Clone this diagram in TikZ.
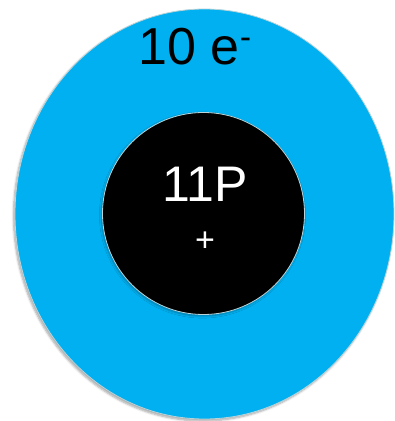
\documentclass[tikz,border=0pt]{standalone}
\usepackage{fontspec}
\setmainfont{Liberation Sans}
\usetikzlibrary{shapes.geometric,shadows.blur}
\definecolor{shellblue}{HTML}{00B0F0}
\definecolor{rimgray}{HTML}{B8D4DA}
\begin{document}
\begin{tikzpicture}[x=1pt,y=1pt,
  shellstyle/.style={ellipse, inner sep=0pt, fill=shellblue, draw=rimgray, line width=0.8pt,
    blur shadow={shadow xshift=-1.5pt, shadow yshift=-2pt, shadow blur steps=6, shadow opacity=35}},
  nucleusstyle/.style={circle, inner sep=0pt, fill=black, draw=rimgray, line width=0.8pt,
    blur shadow={shadow xshift=-1pt, shadow yshift=-1.5pt, shadow blur steps=5, shadow opacity=30}},
  labelstyle/.style={inner sep=0pt, anchor=base}]
\useasboundingbox (0,0) rectangle (395,421);
\node[shellstyle, minimum width=379pt, minimum height=410pt] (shell) at (204.5,207) {};
\node[nucleusstyle, minimum size=202pt] (nucleus) at (203.5,207.5) {};
\node[labelstyle, text=black, font=\fontsize{52}{60}\selectfont] (electrons) at (195,356)
  {10 e\raisebox{16pt}{\fontsize{34}{40}\selectfont -}};
\node[labelstyle, text=white, font=\fontsize{50}{58}\selectfont] (protons) at (205,219) {11P};
\node[inner sep=0pt, text=white, font=\fontsize{34}{40}\selectfont] (charge) at (205,179) {+};
\end{tikzpicture}
\end{document}
